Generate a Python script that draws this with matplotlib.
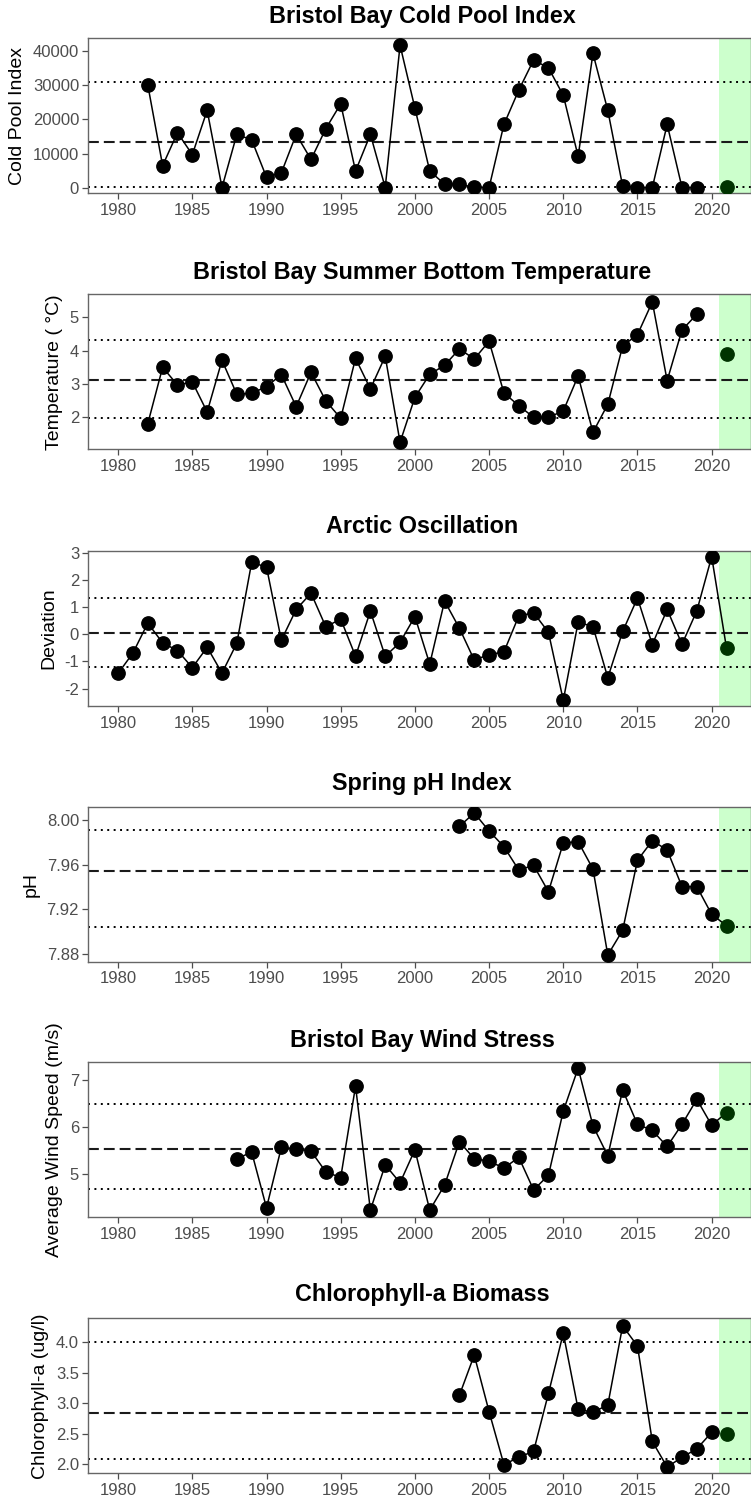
import matplotlib
matplotlib.use("Agg")
import matplotlib.pyplot as plt
from matplotlib.ticker import FixedLocator, FormatStrFormatter

plt.rcParams['font.family'] = ['Liberation Sans', 'DejaVu Sans']

# ---------------- data ----------------
titles = ["Bristol Bay Cold Pool Index",
          "Bristol Bay Summer Bottom Temperature",
          "Arctic Oscillation",
          "Spring pH Index",
          "Bristol Bay Wind Stress",
          "Chlorophyll-a Biomass"]
ylabels = ["Cold Pool Index", "Temperature ( °C)", "Deviation", "pH",
           "Average Wind Speed (m/s)", "Chlorophyll-a (ug/l)"]

cp_years = list(range(1982, 2020))
cp_vals = [30000, 6500, 16100, 9700, 22600, 100, 15600, 14000, 3100, 4400,
           15600, 8300, 17300, 24500, 4900, 15600, 100, 41600, 23300, 4900,
           1100, 1000, 200, 100, 18500, 28500, 37300, 35000, 27000, 9200,
           39200, 22600, 500, 100, 100, 18500, 100, 100]
cp_now = 200

bt_years = list(range(1982, 2020))
bt_vals = [1.81, 3.50, 2.97, 3.06, 2.16, 3.71, 2.69, 2.72, 2.92, 3.28,
           2.32, 3.35, 2.49, 1.97, 3.77, 2.85, 3.83, 1.25, 2.60, 3.29,
           3.56, 4.05, 3.75, 4.28, 2.73, 2.35, 2.00, 2.00, 2.19, 3.24,
           1.55, 2.39, 4.14, 4.48, 5.46, 3.10, 4.62, 5.09]
bt_now = 3.91

ao_years = list(range(1980, 2021))
ao_vals = [-1.44, -0.69, 0.41, -0.32, -0.60, -1.23, -0.48, -1.43, -0.33, 2.64,
           2.47, -0.22, 0.91, 1.51, 0.27, 0.56, -0.81, 0.85, -0.81, -0.30,
           0.65, -1.10, 1.22, 0.22, -0.95, -0.75, -0.65, 0.67, 0.79, 0.07,
           -2.43, 0.44, 0.28, -1.60, 0.10, 1.33, -0.38, 0.91, -0.37, 0.86,
           2.85]
ao_now = -0.51

ph_years = list(range(2003, 2021))
ph_vals = [7.9943, 8.0063, 7.9901, 7.9761, 7.9552, 7.9594, 7.9358, 7.9794,
           7.9806, 7.9561, 7.8791, 7.9012, 7.9639, 7.9815, 7.9731, 7.9403,
           7.9403, 7.9155]
ph_now = 7.9054

ws_years = list(range(1988, 2021))
ws_vals = [5.33, 5.47, 4.29, 5.57, 5.54, 5.49, 5.05, 4.93, 6.87, 4.24,
           5.20, 4.82, 5.52, 4.24, 4.77, 5.69, 5.33, 5.28, 5.13, 5.36,
           4.67, 4.98, 6.34, 7.25, 6.03, 5.39, 6.79, 6.06, 5.93, 5.59,
           6.06, 6.59, 6.04]
ws_now = 6.31

chl_years = list(range(2003, 2021))
chl_vals = [3.13, 3.79, 2.86, 1.99, 2.11, 2.21, 3.16, 4.15, 2.90, 2.85,
            2.97, 4.27, 3.94, 2.37, 1.95, 2.11, 2.25, 2.52]
chl_now = 2.49

now_year = 2021
connect_now = [False, False, True, True, True, False]

mean_lines = [13300, 3.12, 0.05, 7.954, 5.53, 2.84]
upper_lines = [31000, 4.33, 1.33, 7.991, 6.49, 4.00]
lower_lines = [150, 1.99, -1.21, 7.9045, 4.69, 2.08]

yticks = [[0, 10000, 20000, 30000, 40000],
          [2, 3, 4, 5],
          [-2, -1, 0, 1, 2, 3],
          [7.88, 7.92, 7.96, 8.00],
          [5, 6, 7],
          [2.0, 2.5, 3.0, 3.5, 4.0]]
yfmt = ["%d", "%d", "%d", "%.2f", "%d", "%.1f"]
ylims = [(-1580, 43630), (1.04, 5.69), (-2.64, 3.06), (7.8731, 8.0119),
         (4.088, 7.375), (1.847, 4.395)]
xticks = [1980, 1985, 1990, 1995, 2000, 2005, 2010, 2015, 2020]

series = [(cp_years, cp_vals, cp_now), (bt_years, bt_vals, bt_now),
          (ao_years, ao_vals, ao_now), (ph_years, ph_vals, ph_now),
          (ws_years, ws_vals, ws_now), (chl_years, chl_vals, chl_now)]

# ---------------- layout ----------------
W, H = 751, 1500
fig = plt.figure(figsize=(W / 100, H / 100), dpi=100)
panel_tops = [38.3, 294.3, 551.0, 806.7, 1062.3, 1318.3]
panel_h = 155.0
left_px = 87.7
title_centers = [16, 273, 527, 784, 1040, 1295]

for i in range(6):
    top = panel_tops[i]
    ax = fig.add_axes([left_px / W, 1 - (top + panel_h) / H,
                       (W - left_px) / W, panel_h / H])
    yrs, vals, now = series[i]
    ax.axvspan(2020.5, 2030, color='#ccffcc', lw=0, zorder=0)
    ax.axhline(mean_lines[i], color='#1a1a1a', lw=1.5,
               linestyle=(0, (5.2, 2.4)), zorder=1)
    ax.axhline(upper_lines[i], color='black', lw=1.4,
               linestyle=(0, (1, 2.3)), zorder=1)
    ax.axhline(lower_lines[i], color='black', lw=1.4,
               linestyle=(0, (1, 2.3)), zorder=1)
    lx = list(yrs)
    ly = list(vals)
    if connect_now[i]:
        lx.append(now_year)
        ly.append(now)
    ax.plot(lx, ly, color='black', lw=1.1, zorder=2)
    ax.plot(yrs, vals, 'o', color='black', ms=9.6, zorder=3)
    ax.plot([now_year], [now], 'o', color='#003300', ms=9.6, zorder=4)

    ax.set_xlim(1977.95, 2022.65)
    ax.set_ylim(*ylims[i])
    ax.xaxis.set_major_locator(FixedLocator(xticks))
    ax.yaxis.set_major_locator(FixedLocator(yticks[i]))
    ax.yaxis.set_major_formatter(FormatStrFormatter(yfmt[i]))
    ax.tick_params(axis='both', labelsize=12, colors='#4d4d4d',
                   length=4, width=0.9)
    ax.tick_params(axis='x', pad=3.0)
    ax.tick_params(axis='y', pad=2.2)
    for s in ['left', 'bottom', 'top', 'right']:
        ax.spines[s].set_color('#666666')
        ax.spines[s].set_linewidth(1.0)
    ax.set_ylabel(ylabels[i], fontsize=14, color='black', labelpad=5)
    fig.text(422 / W, 1 - title_centers[i] / H, titles[i], ha='center',
             va='center', fontsize=16.8, fontweight='bold')

fig.savefig("out.png", dpi=100)
